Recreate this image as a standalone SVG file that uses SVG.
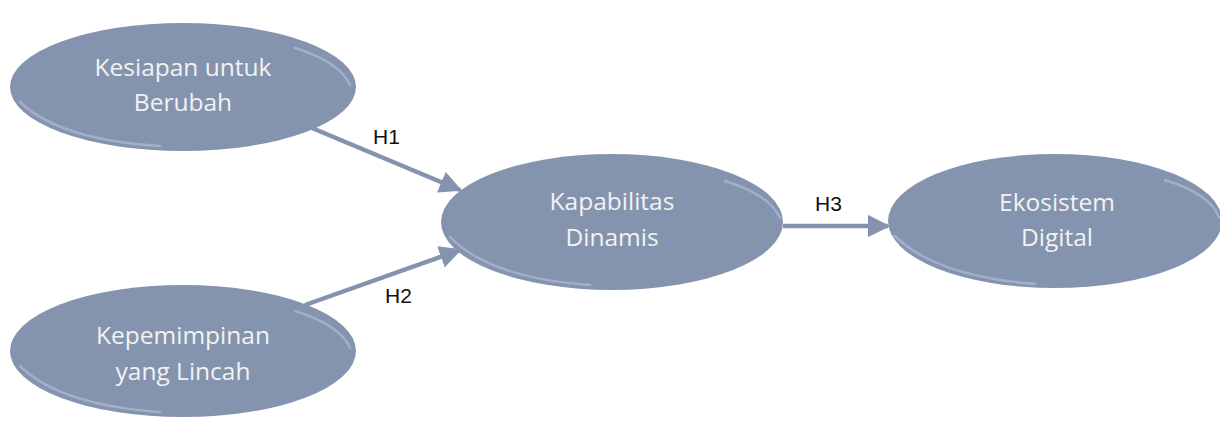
<svg xmlns="http://www.w3.org/2000/svg" width="1220" height="421" viewBox="0 0 1220 421">
<style>
.node{fill:#8494ae;}
.rim{fill:none;stroke:#b4c2d8;stroke-width:2.5;opacity:0.6;stroke-linecap:round;}
.nt{font-family:"Open Sans","Liberation Sans",sans-serif;font-size:24.5px;fill:#f2f2f2;text-anchor:middle;}
.edge{stroke:#8494ae;stroke-width:4.5;fill:none;}
.lbl{font-family:"Liberation Sans",Arial,sans-serif;font-size:21px;fill:#111;}
</style>
<defs>
<marker id="ah" viewBox="0 0 10 10" refX="9" refY="5" markerWidth="5" markerHeight="5" orient="auto" markerUnits="strokeWidth">
<path d="M0,0 L10,5 L0,10 z" fill="#8494ae"/>
</marker>
</defs>
<g id="edges">
<line class="edge" x1="312" y1="128" x2="460" y2="190" marker-end="url(#ah)"/>
<line class="edge" x1="305" y1="305" x2="460" y2="250" marker-end="url(#ah)"/>
<line class="edge" x1="783" y1="226" x2="888" y2="226" marker-end="url(#ah)"/>
<text class="lbl" x="373" y="144">H1</text>
<text class="lbl" x="385" y="303">H2</text>
<text class="lbl" x="815" y="211">H3</text>
</g>
<g id="n1">
<ellipse class="node" cx="183" cy="87" rx="173" ry="64"/>
<path class="rim" d="M20,102 Q60,140 160,146"/>
<path class="rim" d="M295,48 Q340,62 350,85"/>
<text class="nt" x="183" y="76">Kesiapan untuk</text>
<text class="nt" x="183" y="111">Berubah</text>
</g>
<g id="n2">
<ellipse class="node" cx="183" cy="351" rx="173" ry="66"/>
<path class="rim" d="M20,366 Q60,405 160,412"/>
<path class="rim" d="M295,311 Q340,325 350,348"/>
<text class="nt" x="183" y="344">Kepemimpinan</text>
<text class="nt" x="183" y="380">yang Lincah</text>
</g>
<g id="n3">
<ellipse class="node" cx="612" cy="222" rx="171" ry="68"/>
<path class="rim" d="M450,237 Q490,278 590,285"/>
<path class="rim" d="M725,181 Q770,195 780,218"/>
<text class="nt" x="612" y="210">Kapabilitas</text>
<text class="nt" x="612" y="246">Dinamis</text>
</g>
<g id="n4">
<ellipse class="node" cx="1055" cy="221" rx="167" ry="67"/>
<path class="rim" d="M895,236 Q935,276 1035,284"/>
<path class="rim" d="M1165,180 Q1210,194 1219,217"/>
<text class="nt" x="1057" y="211">Ekosistem</text>
<text class="nt" x="1057" y="246">Digital</text>
</g>
</svg>
